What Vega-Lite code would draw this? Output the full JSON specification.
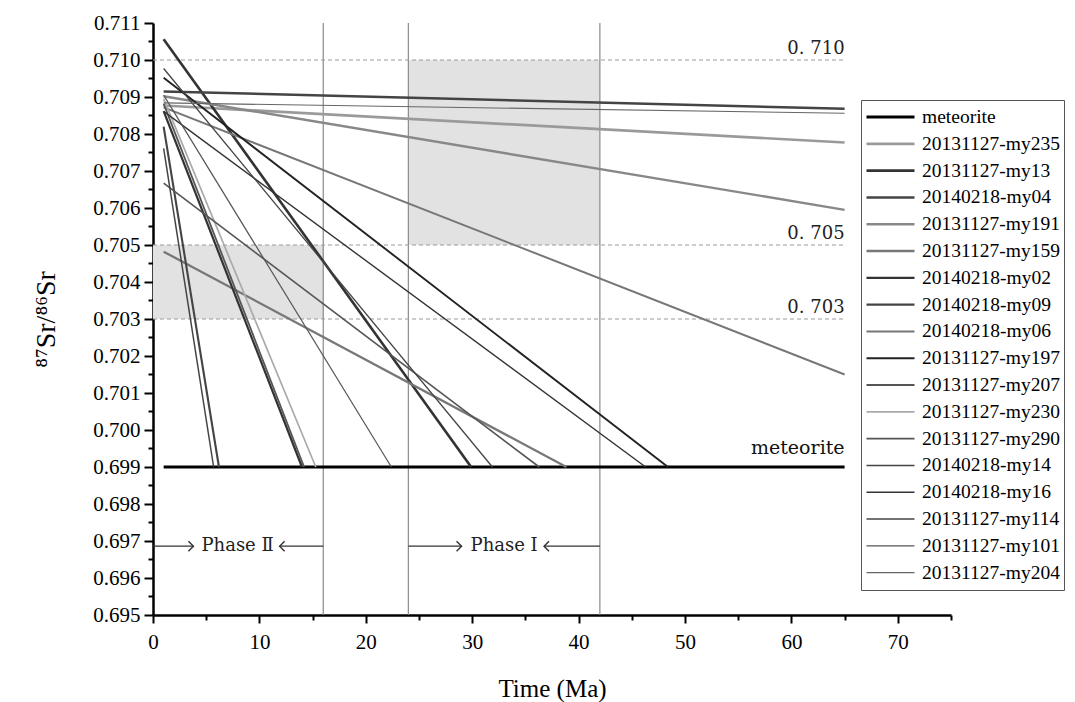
{
  "$schema": "https://vega.github.io/schema/vega-lite/v6.json",
  "width": 798,
  "height": 592,
  "autosize": {"type": "none"},
  "padding": {"left": 153, "top": 23, "right": 124, "bottom": 87},
  "background": "white",
  "config": {"view": {"stroke": null}, "font": "Liberation Serif"},
  "datasets": {
    "boxes": [
      {"t": 0, "t2": 16, "v": 0.703, "v2": 0.705},
      {"t": 24, "t2": 42, "v": 0.705, "v2": 0.710}
    ],
    "vlines": [
      {"t": 16, "v": 0.695, "v2": 0.711},
      {"t": 24, "v": 0.695, "v2": 0.711},
      {"t": 42, "v": 0.695, "v2": 0.711}
    ],
    "refs": [
      {"t": 0, "t2": 65, "v": 0.710, "label": "0. 710"},
      {"t": 0, "t2": 65, "v": 0.705, "label": "0. 705"},
      {"t": 0, "t2": 65, "v": 0.703, "label": "0. 703"}
    ],
    "lines": [
      {"sample": "meteorite", "t": 1, "v": 0.699}, {"sample": "meteorite", "t": 65, "v": 0.699},
      {"sample": "20131127-my235", "t": 1, "v": 0.70877}, {"sample": "20131127-my235", "t": 65, "v": 0.70777},
      {"sample": "20131127-my13", "t": 1, "v": 0.71056}, {"sample": "20131127-my13", "t": 29.9, "v": 0.699},
      {"sample": "20140218-my04", "t": 1, "v": 0.70915}, {"sample": "20140218-my04", "t": 65, "v": 0.70868},
      {"sample": "20131127-my191", "t": 1, "v": 0.70902}, {"sample": "20131127-my191", "t": 65, "v": 0.70595},
      {"sample": "20131127-my159", "t": 1, "v": 0.70482}, {"sample": "20131127-my159", "t": 38.85, "v": 0.699},
      {"sample": "20140218-my02", "t": 1, "v": 0.70862}, {"sample": "20140218-my02", "t": 14.0, "v": 0.699},
      {"sample": "20140218-my09", "t": 1, "v": 0.7082}, {"sample": "20140218-my09", "t": 6.2, "v": 0.699},
      {"sample": "20140218-my06", "t": 1, "v": 0.70872}, {"sample": "20140218-my06", "t": 65, "v": 0.7015},
      {"sample": "20131127-my197", "t": 1, "v": 0.70952}, {"sample": "20131127-my197", "t": 48.4, "v": 0.699},
      {"sample": "20131127-my207", "t": 1, "v": 0.70882}, {"sample": "20131127-my207", "t": 14.2, "v": 0.699},
      {"sample": "20131127-my230", "t": 1, "v": 0.70895}, {"sample": "20131127-my230", "t": 15.3, "v": 0.699},
      {"sample": "20131127-my290", "t": 1, "v": 0.70667}, {"sample": "20131127-my290", "t": 36.3, "v": 0.699},
      {"sample": "20140218-my14", "t": 1, "v": 0.70761}, {"sample": "20140218-my14", "t": 5.7, "v": 0.699},
      {"sample": "20140218-my16", "t": 1, "v": 0.70861}, {"sample": "20140218-my16", "t": 46.3, "v": 0.699},
      {"sample": "20131127-my114", "t": 1, "v": 0.70977}, {"sample": "20131127-my114", "t": 31.9, "v": 0.699},
      {"sample": "20131127-my101", "t": 1, "v": 0.70905}, {"sample": "20131127-my101", "t": 22.4, "v": 0.699},
      {"sample": "20131127-my204", "t": 1, "v": 0.70884}, {"sample": "20131127-my204", "t": 65, "v": 0.70856}
    ],
    "metlabel": [{"t": 65, "v": 0.699, "label": "meteorite"}],
    "arrows": [
      {"t": 0, "t2": 3.8, "v": 0.69686, "h": 3.8, "dir": "r"},
      {"t": 11.9, "t2": 16, "v": 0.69686, "h": 11.9, "dir": "l"},
      {"t": 24, "t2": 29.0, "v": 0.69686, "h": 29.0, "dir": "r"},
      {"t": 36.75, "t2": 42, "v": 0.69686, "h": 36.75, "dir": "l"}
    ],
    "phases": [
      {"t": 7.95, "v": 0.69686, "label": "Phase Ⅱ"},
      {"t": 33.0, "v": 0.69686, "label": "Phase Ⅰ"}
    ]
  },
  "encoding": {
    "x": {
      "field": "t", "type": "quantitative",
      "scale": {"domain": [0, 75], "nice": false, "zero": false},
      "axis": {
        "title": "Time (Ma)",
        "values": [0, 5, 10, 15, 20, 25, 30, 35, 40, 45, 50, 55, 60, 65, 70, 75],
        "labelExpr": "datum.value % 10 === 0 ? datum.label : ''",
        "tickSize": {"condition": {"test": "datum.value % 10 === 0", "value": 8}, "value": 5},
        "tickWidth": 2, "tickColor": "black",
        "domainWidth": 2.5, "domainColor": "black",
        "grid": false, "labelFlush": false, "labelOverlap": false,
        "labelFont": "Liberation Serif", "labelFontSize": 21, "labelColor": "black", "labelPadding": 8,
        "titleFont": "Liberation Serif", "titleFontSize": 25, "titleFontWeight": "normal", "titleColor": "black", "titlePadding": 24
      }
    },
    "y": {
      "field": "v", "type": "quantitative",
      "scale": {"domain": [0.695, 0.711], "nice": false, "zero": false},
      "axis": {
        "title": "⁸⁷Sr/⁸⁶Sr",
        "values": [0.695, 0.6955, 0.696, 0.6965, 0.697, 0.6975, 0.698, 0.6985, 0.699, 0.6995, 0.7, 0.7005, 0.701, 0.7015, 0.702, 0.7025, 0.703, 0.7035, 0.704, 0.7045, 0.705, 0.7055, 0.706, 0.7065, 0.707, 0.7075, 0.708, 0.7085, 0.709, 0.7095, 0.71, 0.7105, 0.711],
        "format": ".3f",
        "labelExpr": "abs(datum.value*1000 - round(datum.value*1000)) < 0.01 ? datum.label : ''",
        "tickSize": {"condition": {"test": "abs(datum.value*1000 - round(datum.value*1000)) < 0.01", "value": 9}, "value": 5},
        "tickWidth": 2, "tickColor": "black",
        "domainWidth": 2.5, "domainColor": "black",
        "grid": false, "labelFlush": false, "labelOverlap": false,
        "labelFont": "Liberation Serif", "labelFontSize": 21, "labelColor": "black", "labelPadding": 4,
        "titleFont": "Liberation Serif", "titleFontSize": 28, "titleFontWeight": "normal", "titleColor": "black", "titlePadding": 32
      }
    }
  },
  "layer": [
    {
      "data": {"name": "boxes"},
      "mark": {"type": "rect", "fill": "#e2e2e2", "stroke": null},
      "encoding": {"x2": {"field": "t2"}, "y2": {"field": "v2"}}
    },
    {
      "data": {"name": "vlines"},
      "mark": {"type": "rule", "color": "#8a8a8a", "strokeWidth": 1.2},
      "encoding": {"y2": {"field": "v2"}}
    },
    {
      "data": {"name": "refs"},
      "mark": {"type": "rule", "color": "#9a9a9a", "strokeWidth": 1, "strokeDash": [4, 3]},
      "encoding": {"x2": {"field": "t2"}}
    },
    {
      "data": {"name": "refs"},
      "mark": {"type": "text", "align": "right", "baseline": "bottom", "dy": -2, "font": "DejaVu Serif", "fontSize": 18, "color": "#222"},
      "encoding": {"x": {"field": "t2", "type": "quantitative"}, "text": {"field": "label"}}
    },
    {
      "data": {"name": "lines"},
      "mark": {"type": "line", "clip": true},
      "encoding": {
        "color": {
          "field": "sample", "type": "nominal",
          "scale": {
            "domain": ["meteorite", "20131127-my235", "20131127-my13", "20140218-my04", "20131127-my191", "20131127-my159", "20140218-my02", "20140218-my09", "20140218-my06", "20131127-my197", "20131127-my207", "20131127-my230", "20131127-my290", "20140218-my14", "20140218-my16", "20131127-my114", "20131127-my101", "20131127-my204"],
            "range": ["#000000", "#9a9a9a", "#333333", "#444444", "#888888", "#777777", "#333333", "#444444", "#777777", "#222222", "#555555", "#aaaaaa", "#555555", "#444444", "#333333", "#444444", "#555555", "#666666"]
          },
          "legend": {
            "title": null, "orient": "none", "legendX": 708, "legendY": 77,
            "strokeColor": "#555555", "fillColor": "white", "padding": 4, "rowPadding": 0.8, "clipHeight": 26,
            "symbolType": "stroke", "symbolSize": 2304, "labelOffset": 6,
            "labelFont": "Liberation Serif", "labelFontSize": 19.5, "labelColor": "black", "labelLimit": 300
          }
        },
        "strokeWidth": {
          "field": "sample", "type": "nominal",
          "scale": {
            "domain": ["meteorite", "20131127-my235", "20131127-my13", "20140218-my04", "20131127-my191", "20131127-my159", "20140218-my02", "20140218-my09", "20140218-my06", "20131127-my197", "20131127-my207", "20131127-my230", "20131127-my290", "20140218-my14", "20140218-my16", "20131127-my114", "20131127-my101", "20131127-my204"],
            "range": [2.8, 1.1, 1.1, 1.1, 1.1, 1.1, 1.1, 1.1, 1.1, 1.1, 1.1, 1.1, 1.1, 1.1, 1.1, 1.1, 1.1, 1.1]
          },
          "legend": {
            "title": null, "orient": "none", "legendX": 708, "legendY": 77,
            "strokeColor": "#555555", "fillColor": "white", "padding": 4, "rowPadding": 0.8, "clipHeight": 26,
            "symbolType": "stroke", "symbolSize": 2304, "labelOffset": 6,
            "labelFont": "Liberation Serif", "labelFontSize": 19.5, "labelColor": "black", "labelLimit": 300
          }
        }
      }
    },
    {
      "data": {"name": "metlabel"},
      "mark": {"type": "text", "align": "right", "baseline": "bottom", "dy": -9, "font": "DejaVu Serif", "fontSize": 19, "color": "#111"},
      "encoding": {"text": {"field": "label"}}
    },
    {
      "data": {"name": "arrows"},
      "mark": {"type": "rule", "color": "#333", "strokeWidth": 1.3},
      "encoding": {"x2": {"field": "t2"}}
    },
    {
      "data": {"name": "arrows"},
      "mark": {"type": "point", "filled": false, "opacity": 1, "color": "#333", "strokeWidth": 1.4, "size": 100},
      "encoding": {
        "x": {"field": "h", "type": "quantitative"},
        "shape": {"field": "dir", "type": "nominal", "scale": {"domain": ["r", "l"], "range": ["M-1,-1L0,0L-1,1", "M1,-1L0,0L1,1"]}, "legend": null}
      }
    },
    {
      "data": {"name": "phases"},
      "mark": {"type": "text", "align": "center", "baseline": "middle", "font": "DejaVu Serif", "fontSize": 18, "color": "#222"},
      "encoding": {"text": {"field": "label"}}
    }
  ]
}
